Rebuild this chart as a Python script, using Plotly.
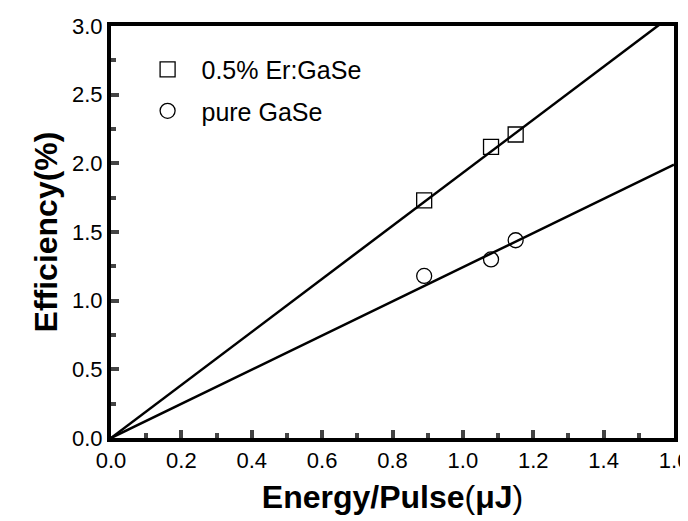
import plotly.graph_objects as go

er_x = [0.89, 1.08, 1.15]
er_y = [1.73, 2.12, 2.21]
pure_x = [0.89, 1.08, 1.15]
pure_y = [1.18, 1.30, 1.44]
# linear fits through origin
er_fit_x = [0.0, 1.6]
er_fit_y = [0.0, 3.09]
pure_fit_x = [0.0, 1.6]
pure_fit_y = [0.0, 1.99]

fig = go.Figure()
line = dict(color="black", width=2.5)
fig.add_trace(go.Scatter(x=er_fit_x, y=er_fit_y, mode="lines", line=line, showlegend=False))
fig.add_trace(go.Scatter(x=pure_fit_x, y=pure_fit_y, mode="lines", line=line, showlegend=False))
fig.add_trace(go.Scatter(x=er_x, y=er_y, mode="markers", name="  0.5% Er:GaSe", legendgroup="a",
                         marker=dict(symbol="square-open", size=15, color="black", line=dict(width=1.3))))
fig.add_trace(go.Scatter(x=pure_x, y=pure_y, mode="markers", name="  pure GaSe", legendgroup="b",
                         marker=dict(symbol="circle-open", size=15, color="black", line=dict(width=1.3))))

axis = dict(showline=True, linecolor="black", linewidth=4, mirror=True, ticks="inside",
            ticklen=8, tickwidth=3.5, showgrid=False, zeroline=False, automargin=False,
            tickfont=dict(family="Liberation Sans, Arial", size=22, color="black"),
            minor=dict(ticks="inside", ticklen=5, tickwidth=3.5))
fig.update_layout(
    width=688, height=521, plot_bgcolor="white", paper_bgcolor="white",
    margin=dict(l=103, r=22, t=18, b=91),
    font=dict(family="Liberation Sans, Arial", color="black"),
    xaxis=dict(axis, range=[0, 1.6], dtick=0.2, tickformat=".1f", minor=dict(axis["minor"], dtick=0.1),
               title=dict(text="<b>Energy/Pulse</b>(<b>μJ</b>)", font=dict(size=32), standoff=14)),
    yaxis=dict(axis, range=[0, 3.0], dtick=0.5, tickformat=".1f", minor=dict(axis["minor"], dtick=0.25),
               title=dict(text="<b>Efficiency(%)</b>", font=dict(size=32), standoff=6)),
    legend=dict(x=0.065, y=0.95, xanchor="left", yanchor="top", bgcolor="rgba(0,0,0,0)",
                font=dict(size=25), itemsizing="trace", tracegroupgap=6),
)
fig.write_html("out.html")
